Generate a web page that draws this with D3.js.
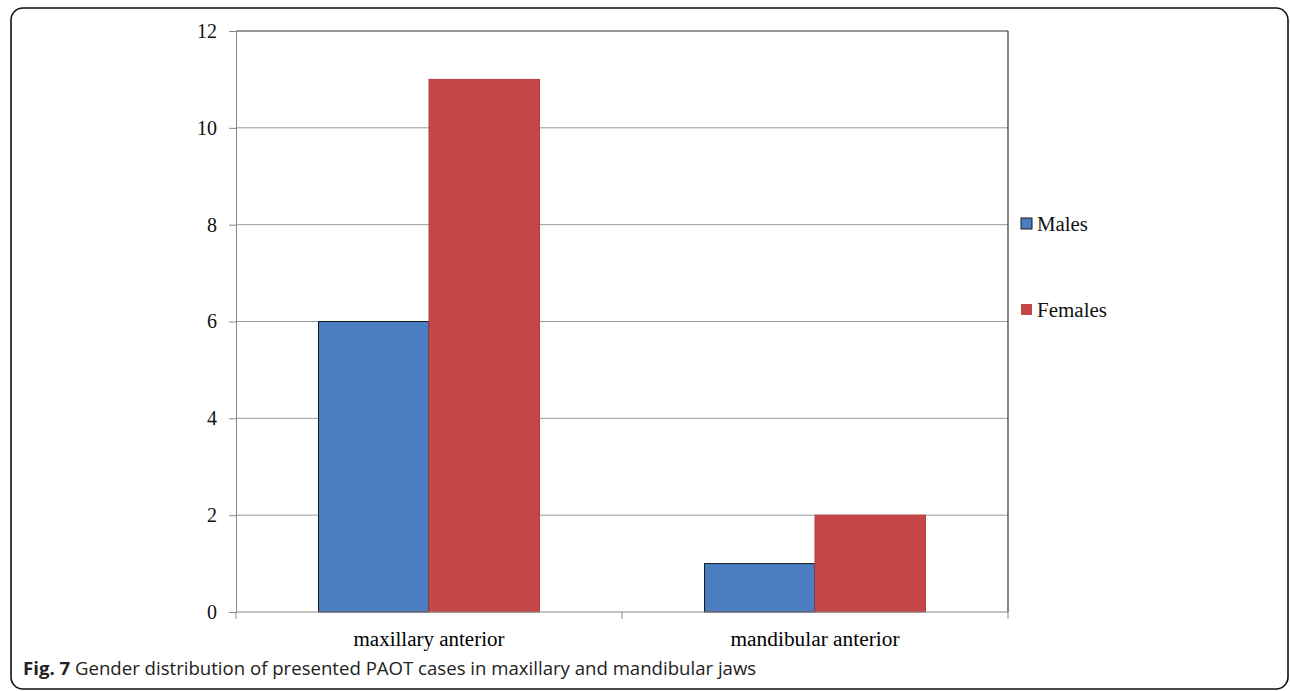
<!DOCTYPE html>
<html><head><meta charset="utf-8">
<script src="https://cdn.jsdelivr.net/npm/d3@7/dist/d3.min.js"></script>
<style>html,body{margin:0;padding:0;background:#fff;}svg{display:block;}</style>
</head><body>
<svg id="c" width="1290" height="691"></svg>
<script>
const categories = ["maxillary anterior", "mandibular anterior"];
const seriesNames = ["Males", "Females"];
const males = [6, 1];
const females = [11, 2];
const yTicks = [0, 2, 4, 6, 8, 10, 12];
const colors = ["#4a7dc2", "#c44646"];
const caption = "Gender distribution of presented PAOT cases in maxillary and mandibular jaws";

const svg = d3.select("#c");
svg.append("rect").attr("x", 11).attr("y", 8).attr("width", 1277).attr("height", 681)
  .attr("rx", 12).attr("fill", "none").attr("stroke", "#111").attr("stroke-width", 1.6);

const serif = "Liberation Serif, Times New Roman, serif";
const L = 236, R = 1008, T = 31, B = 612;
const x0 = d3.scaleBand().domain(categories).range([L, R]).paddingInner(0).paddingOuter(0);
const y = d3.scaleLinear().domain([0, 12]).range([B, T]);
const bw = 110.5;
const x1 = d3.scaleBand().domain(seriesNames).range([0, bw * 2]);

const g = svg.append("g");
g.selectAll("line.grid").data(yTicks.filter(d => d > 0)).join("line")
  .attr("x1", L).attr("x2", R).attr("y1", d => y(d)).attr("y2", d => y(d))
  .attr("stroke", d => d === 12 ? "#333" : "#999").attr("stroke-width", 1);
g.append("line").attr("x1", R).attr("x2", R).attr("y1", T).attr("y2", B)
  .attr("stroke", "#333").attr("stroke-width", 1.2);

const data = categories.map((c, i) => ({c, vals: [males[i], females[i]]}));
data.forEach(d => {
  const gx = x0(d.c) + x0.bandwidth() / 2 - bw;
  d.vals.forEach((v, j) => {
    g.append("rect")
      .attr("x", gx + x1(seriesNames[j])).attr("y", y(v))
      .attr("width", x1.bandwidth()).attr("height", B - y(v))
      .attr("fill", colors[j])
      .attr("stroke", j === 0 ? "#1a1a1a" : "#b83e3e").attr("stroke-width", 1);
  });
});

const yAxis = d3.axisLeft(y).tickValues(yTicks).tickSize(7).tickPadding(12);
const ya = svg.append("g").attr("transform", `translate(${L},0)`).call(yAxis);
ya.select(".domain").attr("stroke", "#888");
ya.selectAll(".tick line").attr("stroke", "#888");
ya.selectAll(".tick text").attr("font-family", serif)
  .attr("font-size", 20).attr("fill", "#111");

const xa = svg.append("g").attr("transform", `translate(0,${B})`);
xa.append("line").attr("x1", L).attr("x2", R).attr("y1", 0).attr("y2", 0).attr("stroke", "#888");
const xt = [L].concat(categories.map(c => x0(c) + x0.bandwidth()));
xa.selectAll("line.t").data(xt).join("line").attr("x1", d => d).attr("x2", d => d)
  .attr("y1", 0).attr("y2", 7).attr("stroke", "#888");
const catLen = [151, 169];
xa.selectAll("text").data(categories).join("text")
  .attr("x", d => x0(d) + x0.bandwidth() / 2).attr("y", 34)
  .attr("text-anchor", "middle").attr("font-family", serif)
  .attr("font-size", 20).attr("fill", "#000")
  .attr("textLength", (d, i) => catLen[i]).attr("lengthAdjust", "spacingAndGlyphs")
  .text(d => d);

const leg = svg.append("g");
const legY = [224, 310];
const legLen = [51, 70];
seriesNames.forEach((s, i) => {
  leg.append("rect").attr("x", 1021).attr("y", legY[i] - 6).attr("width", 11).attr("height", 11)
    .attr("fill", colors[i]).attr("stroke", i === 0 ? "#1a1a1a" : "none");
  leg.append("text").attr("x", 1037).attr("y", legY[i] + 7)
    .attr("font-family", serif).attr("font-size", 20)
    .attr("textLength", legLen[i]).attr("lengthAdjust", "spacingAndGlyphs")
    .attr("fill", "#111").text(s);
});

const cap = svg.append("text").attr("x", 23).attr("y", 675)
  .attr("font-family", "Open Sans, sans-serif").attr("font-size", 18.6).attr("fill", "#222");
cap.append("tspan").attr("font-weight", "bold").text("Fig. 7");
cap.append("tspan").text(" " + caption);
</script>
</body></html>
